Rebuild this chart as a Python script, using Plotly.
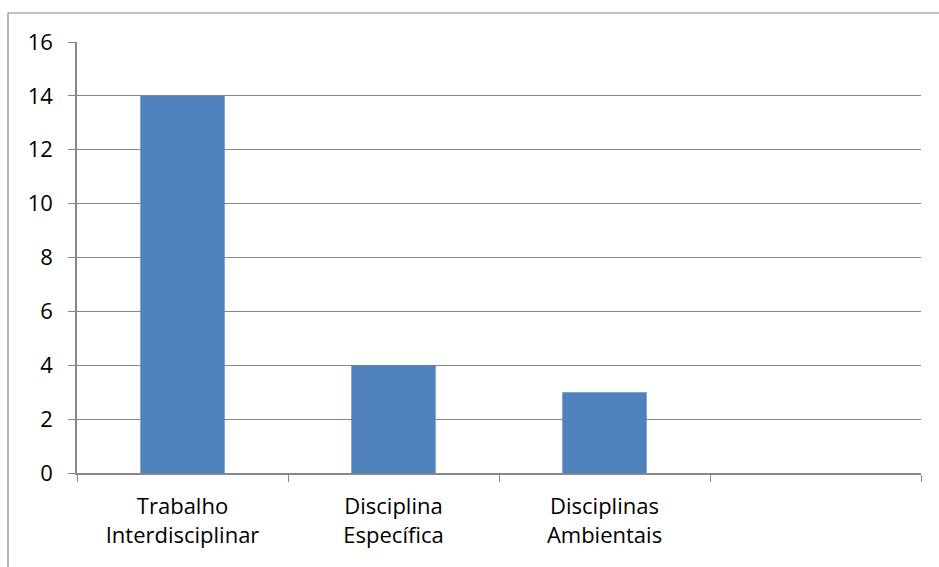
import plotly.graph_objects as go

categories = ["Trabalho<br>Interdisciplinar", "Disciplina<br>Específica", "Disciplinas<br>Ambientais", " "]
values = [14, 4, 3, None]
y_ticks = [0, 2, 4, 6, 8, 10, 12, 14, 16]

W, H = 939, 567
L, R, T, B = 77, 18, 42, 94
pw, ph = W - L - R, H - T - B

fig = go.Figure(go.Bar(x=categories, y=values, marker=dict(color="#4F81BD", line=dict(width=0)), width=0.4))

grid = "#878787"
fig.update_layout(
    width=W, height=H,
    margin=dict(l=L, r=R, t=T, b=B),
    paper_bgcolor="white", plot_bgcolor="white",
    font=dict(family="Open Sans, Calibri, sans-serif", size=22, color="black"),
    showlegend=False,
    xaxis=dict(type="category", tickson="boundaries", ticks="outside", ticklen=7, tickcolor=grid,
               showline=True, linecolor=grid, linewidth=1.5, showgrid=False,
               range=[-0.5, 3.5], tickfont=dict(size=22), ticklabelstandoff=13),
    yaxis=dict(range=[0, 16], tickvals=y_ticks, ticks="outside", ticklen=7, tickcolor=grid,
               showline=True, linecolor=grid, linewidth=1.5, showgrid=True, gridcolor=grid, gridwidth=1.2,
               zeroline=False, tickfont=dict(size=22), ticklabelstandoff=11),
    shapes=[dict(type="rect", xref="paper", yref="paper",
                 x0=(8 - L) / pw, x1=(945 - L) / pw,
                 y0=-(575 - (H - B)) / ph, y1=1 + (T - 13) / ph,
                 line=dict(color="#868686", width=1.2), layer="below")],
)
fig.write_html("out.html")
